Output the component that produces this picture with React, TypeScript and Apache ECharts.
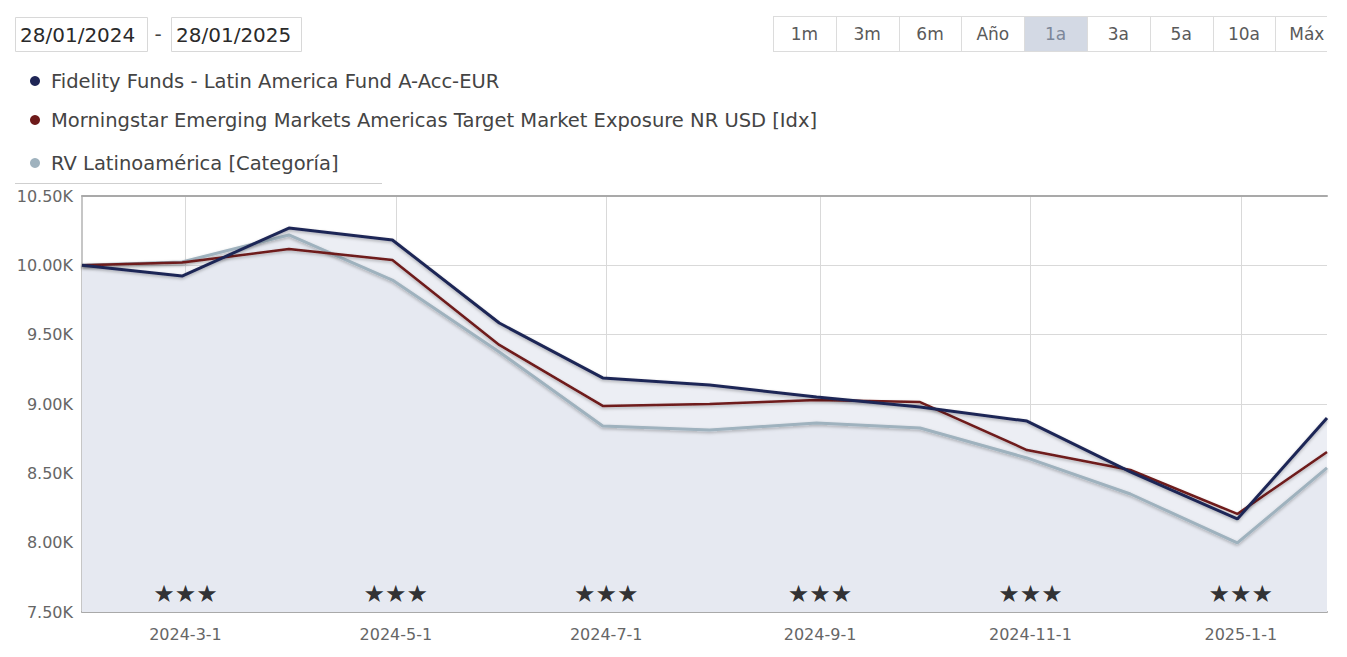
import React, { useEffect, useRef } from 'react';
import * as echarts from 'echarts';

// ---- Data ----
const dates = [
  '2024-01-31', '2024-02-29', '2024-03-31', '2024-04-30', '2024-05-31', '2024-06-30',
  '2024-07-31', '2024-08-31', '2024-09-30', '2024-10-31', '2024-11-30', '2024-12-31', '2025-01-26',
];
const fundValues = [10000, 9923, 10269, 10183, 9584, 9188, 9137, 9050, 8978, 8877, 8510, 8171, 8899];
const indexValues = [10000, 10020, 10118, 10038, 9426, 8986, 9000, 9029, 9014, 8668, 8524, 8207, 8654];
const categoryValues = [10000, 10024, 10219, 9894, 9375, 8842, 8813, 8863, 8827, 8611, 8351, 7998, 8539];

const seriesNames = [
  'Fidelity Funds - Latin America Fund A-Acc-EUR',
  'Morningstar Emerging Markets Americas Target Market Exposure NR USD [Idx]',
  'RV Latinoamérica [Categoría]',
];
const tickDates = ['2024-03-01', '2024-05-01', '2024-07-01', '2024-09-01', '2024-11-01', '2025-01-01'];
const starRatings = [3, 3, 3, 3, 3, 3];
const yMin = 7500;
const yMax = 10500;
const yStep = 500;

const startDateText = '28/01/2024';
const endDateText = '28/01/2025';
const rangeButtons = ['1m', '3m', '6m', 'Año', '1a', '3a', '5a', '10a', 'Máx'];
const activeRange = '1a';

const FONT = '"DejaVu Sans", Verdana, sans-serif';

function ts(s: string): number {
  const [y, m, d] = s.split('-').map(Number);
  return new Date(y, m - 1, d).getTime();
}

export default function App() {
  const ref = useRef<HTMLDivElement>(null);

  useEffect(() => {
    if (!ref.current) return;
    const chart = echarts.init(ref.current, undefined, { renderer: 'svg' });

    const xs = dates.map(ts);
    const tickTs = tickDates.map(ts);
    const pair = (vals: number[]) => vals.map((v, i) => [xs[i], v]);

    const colors = ['#1f2656', '#6e1a1a', '#9fb2be'];
    const legendTops = [71, 110, 153];

    // Header controls
    const graphics: any[] = [];
    graphics.push({ type: 'rect', shape: { x: 15.5, y: 17.5, width: 132, height: 34 }, style: { fill: '#fff', stroke: '#d8d8d8', lineWidth: 1 } });
    graphics.push({ type: 'text', x: 20, y: 35, style: { text: startDateText, fontSize: 20, fontFamily: FONT, fill: '#2a2a2a', verticalAlign: 'middle', align: 'left' } });
    graphics.push({ type: 'text', x: 158, y: 34, style: { text: '-', fontSize: 20, fontFamily: FONT, fill: '#444', verticalAlign: 'middle', align: 'center' } });
    graphics.push({ type: 'rect', shape: { x: 171.5, y: 17.5, width: 130, height: 34 }, style: { fill: '#fff', stroke: '#d8d8d8', lineWidth: 1 } });
    graphics.push({ type: 'text', x: 176, y: 35, style: { text: endDateText, fontSize: 20, fontFamily: FONT, fill: '#2a2a2a', verticalAlign: 'middle', align: 'left' } });

    const bx0 = 773;
    const bw = 62.8;
    const bRight = 1327;
    rangeButtons.forEach((b, i) => {
      const x = bx0 + i * bw;
      if (b === activeRange) {
        graphics.push({ type: 'rect', shape: { x, y: 16.5, width: bw, height: 35 }, style: { fill: '#d3d9e4' } });
      }
      graphics.push({ type: 'line', shape: { x1: Math.round(x) + 0.5, y1: 16.5, x2: Math.round(x) + 0.5, y2: 51.5 }, style: { stroke: '#dcdcdc', lineWidth: 1 } });
      graphics.push({ type: 'text', x: x + bw / 2, y: 34, style: { text: b, fontSize: 17, fontFamily: FONT, fill: b === activeRange ? '#7d8799' : '#5a5a5a', verticalAlign: 'middle', align: 'center' } });
    });
    graphics.push({ type: 'line', shape: { x1: bx0, y1: 16.5, x2: bRight, y2: 16.5 }, style: { stroke: '#dcdcdc', lineWidth: 1 } });
    graphics.push({ type: 'line', shape: { x1: bx0, y1: 51.5, x2: bRight, y2: 51.5 }, style: { stroke: '#dcdcdc', lineWidth: 1 } });
    // legend separator
    graphics.push({ type: 'line', shape: { x1: 15, y1: 183.5, x2: 382, y2: 183.5 }, style: { stroke: '#cfcfcf', lineWidth: 1 } });

    const lineShadow = { shadowColor: 'rgba(0,0,0,0.28)', shadowBlur: 3, shadowOffsetY: 1.5 };

    chart.setOption({
      animation: false,
      backgroundColor: '#fff',
      textStyle: { fontFamily: FONT },
      graphic: graphics,
      legend: seriesNames.map((n, i) => ({
        data: [n],
        left: 30,
        top: legendTops[i],
        orient: 'vertical',
        icon: 'circle',
        itemWidth: 10,
        itemHeight: 10,
        padding: 0,
        selectedMode: false,
        textStyle: { fontSize: 19.5, color: '#444', fontFamily: FONT, padding: [0, 0, 0, 6] },
      })),
      grid: { left: 82, right: 20, top: 196, bottom: 45, containLabel: false },
      xAxis: [
        {
          type: 'time',
          min: xs[0],
          max: xs[xs.length - 1],
          axisLine: { show: true, lineStyle: { color: '#a9a9a9', width: 2 } },
          axisTick: { show: false, customValues: tickTs },
          axisLabel: {
            customValues: tickTs,
            formatter: '{yyyy}-{M}-{d}',
            color: '#666',
            fontSize: 16,
            margin: 14,
            fontFamily: FONT,
          },
          splitLine: { show: true, lineStyle: { color: '#d9d9d9', width: 1 } },
        },
        {
          type: 'time',
          position: 'top',
          min: xs[0],
          max: xs[xs.length - 1],
          axisLine: { show: true, lineStyle: { color: '#a9a9a9', width: 2 } },
          axisTick: { show: false },
          axisLabel: { show: false },
          splitLine: { show: false },
        },
      ],
      yAxis: {
        type: 'value',
        min: yMin,
        max: yMax,
        interval: yStep,
        axisLine: { show: true, lineStyle: { color: '#b3b3b3', width: 1.5 } },
        axisTick: { show: false },
        axisLabel: {
          formatter: (v: number) => (v / 1000).toFixed(2) + 'K',
          color: '#666',
          fontSize: 16,
          margin: 9,
          fontFamily: FONT,
        },
        splitLine: { show: true, lineStyle: { color: '#d9d9d9', width: 1 } },
      },
      series: [
        {
          name: 'fund-area',
          type: 'line',
          data: pair(fundValues),
          symbol: 'none',
          silent: true,
          lineStyle: { width: 0 },
          areaStyle: { color: '#eceef4', opacity: 1 },
          z: 1,
        },
        {
          name: seriesNames[2],
          type: 'line',
          data: pair(categoryValues),
          symbol: 'none',
          color: colors[2],
          lineStyle: { width: 3, color: colors[2], ...lineShadow },
          areaStyle: { color: 'rgba(205,210,226,0.25)' },
          z: 2,
        },
        {
          name: seriesNames[1],
          type: 'line',
          data: pair(indexValues),
          symbol: 'none',
          color: colors[1],
          lineStyle: { width: 2.5, color: colors[1], ...lineShadow },
          z: 3,
        },
        {
          name: seriesNames[0],
          type: 'line',
          data: pair(fundValues),
          symbol: 'none',
          color: colors[0],
          lineStyle: { width: 3, color: colors[0], ...lineShadow },
          z: 4,
        },
        {
          name: 'rating',
          type: 'scatter',
          data: tickTs.map((t, i) => [t, yMin, starRatings[i]]),
          symbolSize: 1,
          itemStyle: { color: 'rgba(0,0,0,0)' },
          clip: false,
          silent: true,
          z: 5,
          label: {
            show: true,
            position: 'inside',
            offset: [0, -18],
            formatter: (p: any) => '★'.repeat(p.value[2]),
            fontSize: 24,
            color: '#000',
            fontFamily: FONT,
          },
        },
      ],
    });

    return () => chart.dispose();
  }, []);

  return (
    <div
      ref={ref}
      style={{ position: 'fixed', left: 0, top: 0, width: 1347, height: 657, background: '#fff' }}
    />
  );
}
